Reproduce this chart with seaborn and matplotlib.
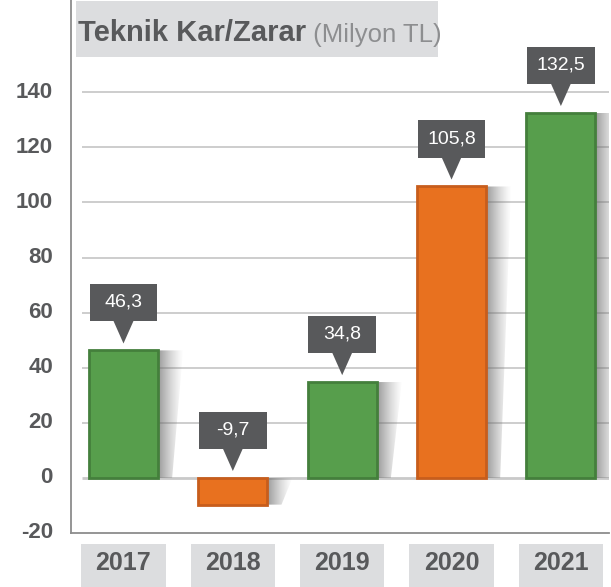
import matplotlib
matplotlib.use("Agg")
import matplotlib.pyplot as plt
import numpy as np
import seaborn as sns
from matplotlib.patches import Rectangle, Polygon
from matplotlib.transforms import blended_transform_factory

years = ["2017", "2018", "2019", "2020", "2021"]
values = [46.3, -9.7, 34.8, 105.8, 132.5]
labels = ["46,3", "-9,7", "34,8", "105,8", "132,5"]
bar_colors = ["#579e4c", "#e8711f", "#579e4c", "#e8711f", "#579e4c"]
edge_colors = ["#447f3c", "#c75d1c", "#447f3c", "#c75d1c", "#447f3c"]
yticks = [-20, 0, 20, 40, 60, 80, 100, 120, 140]

TXT = "#58595b"
BOX = "#dcdddf"

sns.set_theme(style="white")
plt.rcParams["font.family"] = ["Liberation Sans", "DejaVu Sans"]

fig = plt.figure(figsize=(6.11, 5.87), dpi=100)
ax = fig.add_axes([71 / 611, 54 / 587, 538 / 611, 533 / 587])

sns.barplot(x=years, y=values, hue=years, palette=bar_colors, legend=False,
            width=0.63, saturation=1, ax=ax, zorder=3)
for p, ec in zip(ax.patches, edge_colors):
    p.set_edgecolor(ec)
    p.set_linewidth(2.0)

xmin, xmax = -0.48, 4.44
ymin, ymax = -20, 173.5

# gridlines starting a little right of the axis
for t in yticks[1:]:
    ax.hlines(t, -0.38, xmax, color="#c9c9c9", lw=2.0 if t == 0 else 1.3, zorder=1)

# soft shadow right of each bar
grad = np.zeros((1, 64, 4))
grad[..., :3] = 0.42
grad[..., 3] = np.linspace(0.75, 0.0, 64) ** 1.3
for p in list(ax.patches):
    xr = p.get_x() + p.get_width()
    y0, y1 = sorted([p.get_y(), p.get_y() + p.get_height()])
    poly = Polygon([(xr, y1), (xr + 0.23, y1), (xr + 0.13, y0), (xr, y0)],
                   closed=True, fc="none", ec="none", transform=ax.transData)
    ax.add_patch(poly)
    im = ax.imshow(grad, extent=(xr, xr + 0.23, y0, y1), aspect="auto",
                   interpolation="bilinear", zorder=2)
    im.set_clip_path(poly)

# value callouts
for i, (v, lab) in enumerate(zip(values, labels)):
    tip = max(v, 0) + 2.5
    base = tip + 8
    ax.add_patch(Polygon([(i - 0.095, base + 0.5), (i + 0.095, base + 0.5), (i, tip)],
                         closed=True, fc=TXT, ec="none", zorder=4))
    ax.add_patch(Rectangle((i - 0.31, base), 0.62, 13.5, fc=TXT, ec="none", zorder=4))
    ax.text(i, base + 6.9, lab, color="white", fontsize=14, ha="center",
            va="center", zorder=5)

ax.set_xlim(xmin, xmax)
ax.set_ylim(ymin, ymax)
ax.set_yticks(yticks)
ax.set_yticklabels([str(t) for t in yticks], fontsize=16, fontweight="bold", color=TXT)
ax.set_xticks(range(len(years)))
ax.set_xticklabels(years, fontsize=18, fontweight="bold", color=TXT)
ax.tick_params(axis="y", length=0, pad=13)
ax.tick_params(axis="x", length=0, pad=21.5)
for lab in ax.get_xticklabels():
    lab.set_va("center")
for lab in ax.get_yticklabels():
    lab.set_va("center")

for s in ["top", "right"]:
    ax.spines[s].set_visible(False)
for s in ["left", "bottom"]:
    ax.spines[s].set_color("#8c8c8c")
    ax.spines[s].set_linewidth(1.3)
ax.set_xlabel("")
ax.set_ylabel("")

# grey boxes behind the year labels
tr = blended_transform_factory(ax.transData, fig.transFigure)
for i in range(len(years)):
    ax.add_patch(Rectangle((i - 0.385, 0), 0.77, 43 / 587, transform=tr,
                           fc=BOX, ec="none", clip_on=False, zorder=0))

# title box
ax.add_patch(Rectangle((76 / 611, 530 / 587), 362 / 611, 56 / 587,
                       transform=fig.transFigure, fc=BOX, ec="none",
                       clip_on=False, zorder=6))
t1 = ax.text(78 / 611, 546 / 587, "Teknik Kar/Zarar", fontsize=21, fontweight="bold",
             color=TXT, va="baseline", transform=fig.transFigure, zorder=7)
ax.annotate(" (Milyon TL)", xy=(1, 0), xycoords=t1, fontsize=18.5, color="#8d8e90",
            va="bottom", annotation_clip=False, zorder=7)

fig.savefig("out.png", dpi=100)
